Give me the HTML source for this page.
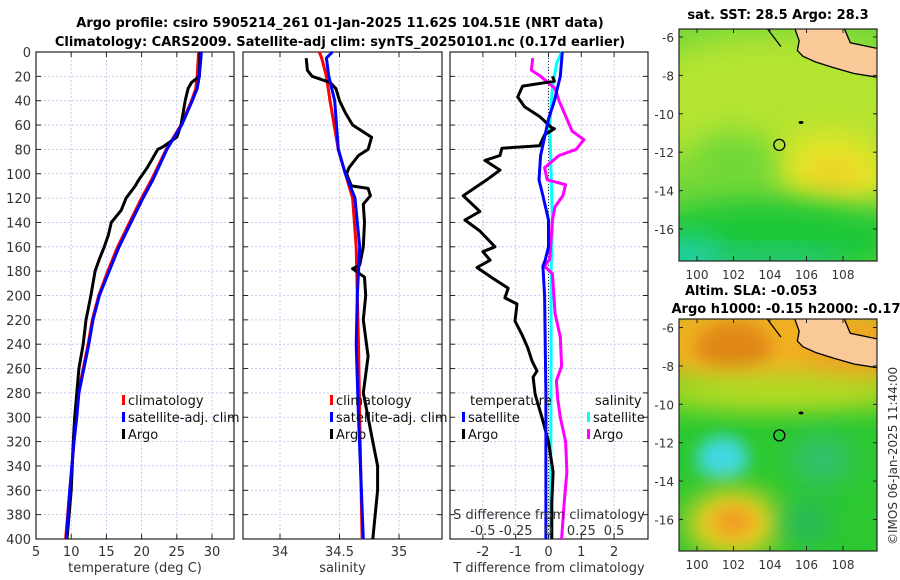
<!DOCTYPE html>
<html><head><meta charset="utf-8"><style>
body{margin:0;background:#fff;}
svg{display:block;font-family:"DejaVu Sans","Liberation Sans",sans-serif;}
</style></head><body>
<svg id="c" width="900" height="580" viewBox="0 0 900 580" xmlns="http://www.w3.org/2000/svg">
<defs>
<filter id="bl" x="-50%" y="-50%" width="200%" height="200%"><feGaussianBlur stdDeviation="14"/></filter>
<filter id="bl2" x="-50%" y="-50%" width="200%" height="200%"><feGaussianBlur stdDeviation="8"/></filter>
<clipPath id="m1"><rect x="679" y="29" width="198" height="232"/></clipPath>
<clipPath id="m2"><rect x="679" y="319" width="198" height="232"/></clipPath>
</defs>
<text x="340" y="27" text-anchor="middle" font-size="13" font-weight="bold">Argo profile: csiro 5905214_261 01-Jan-2025 11.62S 104.51E (NRT data)</text>
<text x="340" y="46" text-anchor="middle" font-size="13" font-weight="bold">Climatology: CARS2009. Satellite-adj clim: synTS_20250101.nc (0.17d earlier)</text>
<g id="maps"></g>
<g id="panels"></g>
</svg>
<script>
// ---- data ----
const depthTemp = [0,20,30,40,60,80,105,120,140,160,180,200,220,240,260,280,300,320,340,360,400];
const tempClim  = [28.1,27.9,27.7,27.1,25.6,23.5,21.4,20.0,18.3,16.6,15.2,13.9,13.0,12.4,11.7,11.0,10.7,10.4,10.1,9.8,9.2];
const tempSat   = [28.5,28.2,27.9,27.2,25.7,23.6,21.6,20.2,18.5,16.8,15.4,14.0,13.1,12.5,11.8,11.1,10.8,10.4,10.1,9.8,9.3];
const depthArgo = [0,20,25,30,40,60,70,78,80,88,95,100,105,110,120,130,140,150,160,170,180,190,200,220,240,260,280,300,320,360,400];
const tempArgo  = [28.3,28.2,27.1,26.6,26.2,25.6,25.0,23.0,22.3,21.5,20.8,20.2,19.6,19.1,17.8,17.1,15.7,15.3,14.7,14.0,13.4,13.1,12.8,12.1,11.7,11.1,10.8,10.5,10.3,10.0,9.4];

const depthSal = [0,5,20,40,80,100,120,160,200,240,300,400];
const salClim  = [34.33,34.35,34.39,34.42,34.49,34.55,34.61,34.64,34.65,34.66,34.67,34.69];
const salSat   = [34.44,34.39,34.41,34.46,34.49,34.55,34.63,34.67,34.65,34.64,34.66,34.70];
const depthSalArgo = [5,15,20,25,30,40,50,60,70,80,85,95,100,105,110,112,118,125,140,160,175,178,185,200,220,250,280,300,320,340,360,380,400];
const salArgo  = [34.22,34.23,34.27,34.42,34.47,34.5,34.55,34.61,34.77,34.74,34.66,34.58,34.56,34.58,34.6,34.74,34.76,34.7,34.71,34.7,34.67,34.61,34.71,34.72,34.7,34.74,34.7,34.74,34.78,34.82,34.82,34.8,34.78];

const depthDT = [20,24,28,37,45,53,62,63,68,77,79,85,89,97,105,118,131,138,147,160,164,171,177,186,194,202,207,221,232,243,254,262,267,281,300,320,345,370,400];
const dTArgo  = [0.12,0.18,-0.79,-0.94,-0.73,-0.27,0.09,0.18,-0.12,-0.27,-1.42,-1.48,-1.94,-1.48,-1.88,-2.6,-2.09,-2.55,-2.09,-1.63,-2.0,-1.78,-2.18,-1.69,-1.23,-1.33,-0.96,-1.02,-0.81,-0.63,-0.5,-0.35,-0.47,-0.41,-0.2,0.0,0.14,0.1,0.1];
const depthDTs = [0,20,40,55,70,85,105,118,138,160,171,176,200,280,400];
const dTSat   = [0.42,0.36,0.18,0.0,-0.12,-0.24,-0.29,-0.17,0.0,0.0,-0.1,-0.17,-0.12,-0.08,-0.08];
const depthDS = [0,10,30,60,100,140,180,250,400];
const dSSat   = [0.1,0.06,0.03,0.01,0.02,0.03,0.02,0.02,0.015];
const depthDSa = [5,15,20,30,40,55,65,72,80,85,95,100,105,109,118,127,138,170,176,182,215,234,258,270,285,300,320,345,370,400];
const dSArgo  = [-0.12,-0.13,-0.06,0.05,0.08,0.14,0.18,0.27,0.21,0.08,-0.03,-0.02,-0.01,0.13,0.11,0.05,0.03,0.01,-0.03,0.03,0.05,0.09,0.1,0.06,0.07,0.09,0.13,0.14,0.12,0.1];

const depthTicks = [0,20,40,60,80,100,120,140,160,180,200,220,240,260,280,300,320,340,360,380,400];
const tempTicks = [5,10,15,20,25,30];
const salTicks = [34,34.5,35];
const dTTicks = [-2,-1,0,1,2];
const dSTicks = [-0.5,-0.25,0,0.25,0.5];
const lonTicks = [100,102,104,106,108];
const latTicks = [-6,-8,-10,-12,-14,-16];

const NS='http://www.w3.org/2000/svg';
const svg=document.getElementById('c');
const P=document.getElementById('panels');
function mk(tag,attrs,parent){const e=document.createElementNS(NS,tag);for(const k in attrs)e.setAttribute(k,attrs[k]);(parent||P).appendChild(e);return e;}
const yTop=52,yBot=539;
const yD=d=>yTop+(d/400)*(yBot-yTop);
function lin(d0,d1,r0,r1){return v=>r0+(v-d0)/(d1-d0)*(r1-r0);}

const panels=[
 {x0:36,x1:234,sx:lin(5,30,36,212),ticks:tempTicks,label:'temperature (deg C)',name:'temperature-panel'},
 {x0:243,x1:442,sx:lin(34,35,280,399),ticks:salTicks,label:'salinity',name:'salinity-panel'},
 {x0:450,x1:648,sx:lin(0,1,548.5,581.3),ticks:dTTicks,label:'T difference from climatology',name:'difference-panel'}
];
panels.forEach((p,i)=>{
  const g=mk('g',{});
  
  
  depthTicks.forEach(d=>{
    const l=mk('line',{x1:p.x0,x2:p.x1,y1:yD(d),y2:yD(d),stroke:'#b8c4ec','stroke-width':0.8,'stroke-dasharray':'2,2'},g);
    
    
    mk('line',{x1:p.x0,x2:p.x0+5,y1:yD(d),y2:yD(d),stroke:'#222'},g);
    mk('line',{x1:p.x1-5,x2:p.x1,y1:yD(d),y2:yD(d),stroke:'#222'},g);
    if(i===0){const t=mk('text',{x:p.x0-5,y:yD(d)+5,'text-anchor':'end','font-size':13,fill:'#333'},g);t.textContent=d;
      
      }
  });
  p.ticks.forEach(v=>{
    const x=p.sx(v);
    mk('line',{x1:x,x2:x,y1:yTop,y2:yBot,stroke:'#b8c4ec','stroke-width':0.8,'stroke-dasharray':'2,2'},g);
    mk('line',{x1:x,x2:x,y1:yBot-5,y2:yBot,stroke:'#222'},g);
    mk('line',{x1:x,x2:x,y1:yTop,y2:yTop+5,stroke:'#222'},g);
    const t=mk('text',{x:x,y:556,'text-anchor':'middle','font-size':13,fill:'#333'},g);t.textContent=v;
    
    
  });
  const r=mk('rect',{x:p.x0,y:yTop,width:p.x1-p.x0,height:yBot-yTop,fill:'none',stroke:'#222','stroke-width':1.2},g);
  
  
  const xl=mk('text',{x:(p.x0+p.x1)/2,y:572,'text-anchor':'middle','font-size':13,fill:'#333'},g);xl.textContent=p.label;
  
  
});
mk('line',{x1:548.5,x2:548.5,y1:yTop,y2:yBot,stroke:'#333','stroke-dasharray':'1,2'});

function line(depths,vals,sx,color,name){
  const pts=depths.map((d,k)=>sx(vals[k]).toFixed(1)+','+yD(d).toFixed(1)).join(' ');
  const e=mk('polyline',{points:pts,fill:'none',stroke:color,'stroke-width':3,'stroke-linejoin':'round'});
  
  
}
const sT=panels[0].sx,sS=panels[1].sx,sDT=panels[2].sx,sDS=lin(0,0.25,548.5,581.3);
line(depthTemp,tempClim,sT,'#f00','temp-climatology-line');
line(depthArgo,tempArgo,sT,'#000','temp-argo-line');
line(depthTemp,tempSat,sT,'#00f','temp-satellite-line');
line(depthSal,salClim,sS,'#f00','sal-climatology-line');
line(depthSalArgo,salArgo,sS,'#000','sal-argo-line');
line(depthSal,salSat,sS,'#00f','sal-satellite-line');
line(depthDS,dSSat,sDS,'#0ff','dS-satellite-line');
line(depthDSa,dSArgo,sDS,'#f0f','dS-argo-line');
line(depthDT,dTArgo,sDT,'#000','dT-argo-line');
line(depthDTs,dTSat,sDT,'#00f','dT-satellite-line');

let st=mk('text',{x:549,y:519,'text-anchor':'middle','font-size':13,fill:'#333'});st.textContent='S difference from climatology';


dSTicks.forEach(v=>{const t=mk('text',{x:sDS(v),y:535,'text-anchor':'middle','font-size':13,fill:'#333'});t.textContent=v;
 
 });

function leg(x,y,color,label,name){
  const g=mk('g',{});
  
  
  mk('rect',{x:x,y:y-10,width:3,height:10,fill:color},g);
  const t=mk('text',{x:x+6,y:y,'font-size':13,fill:'#111'},g);t.textContent=label;
}
[[122,'#f00','climatology'],[122,'#00f','satellite-adj. clim'],[122,'#000','Argo']].forEach((a,k)=>leg(a[0],405+k*17,a[1],a[2],'legend-temp-'+k));
[[330,'#f00','climatology'],[330,'#00f','satellite-adj. clim'],[330,'#000','Argo']].forEach((a,k)=>leg(a[0],405+k*17,a[1],a[2],'legend-sal-'+k));
let h=mk('text',{x:470,y:405,'font-size':13,fill:'#111'});h.textContent='temperature';


h=mk('text',{x:595,y:405,'font-size':13,fill:'#111'});h.textContent='salinity';


leg(462,422,'#00f','satellite','legend-dT-satellite');
leg(462,439,'#000','Argo','legend-dT-argo');
leg(587,422,'#0ff','satellite','legend-dS-satellite');
leg(587,439,'#f0f','Argo','legend-dS-argo');

// ---- maps ----
const M=document.getElementById('maps');
const mx=lin(100,108,697,843);
function mapFrame(y0,lat0y,name,blobs,base){
  const g=mk('g',{},M);
  
  
  const my=v=>lat0y+(-6-v)*19.2;
  const cg=mk('g',{'clip-path':'url(#'+(y0<100?'m1':'m2')+')'},g);
  mk('rect',{x:679,y:y0,width:198,height:232,fill:base},cg);
  blobs.forEach(b=>mk('ellipse',{cx:mx(b[0]),cy:my(b[1]),rx:b[2],ry:b[3],fill:b[4],filter:'url(#'+(b[5]||'bl')+')'},cg));
  const land=[[105.3,-5.4],[108.0,-5.4],[108.4,-6.3],[109.9,-6.6],[109.9,-8.1],[108.6,-7.9],[107.5,-7.6],[106.5,-7.3],[105.8,-7.0],[105.5,-6.7],[105.6,-6.2],[105.3,-5.4]];
  const lp=mk('polygon',{points:land.map(p=>mx(p[0])+','+my(p[1])).join(' '),fill:'#f9c998',stroke:'#000','stroke-width':1.3},cg);
  
  
  mk('polyline',{points:[[103.8,-5.5],[104.2,-6.0],[104.6,-6.5]].map(p=>mx(p[0])+','+my(p[1])).join(' '),fill:'none',stroke:'#000','stroke-width':1.3},cg);
  mk('ellipse',{cx:mx(105.7),cy:my(-10.45),rx:2.5,ry:1.5,fill:'#000'},cg);
  const c=mk('circle',{cx:mx(104.51),cy:my(-11.62),r:5.5,fill:'none',stroke:'#000','stroke-width':1.3},g);
  
  
  mk('rect',{x:679,y:y0,width:198,height:232,fill:'none',stroke:'#222','stroke-width':1.2},g);
  lonTicks.forEach(v=>{mk('line',{x1:mx(v),x2:mx(v),y1:y0+232,y2:y0+227,stroke:'#222'},g);mk('line',{x1:mx(v),x2:mx(v),y1:y0,y2:y0+4,stroke:'#222'},g);
    const t=mk('text',{x:mx(v),y:y0+250,'text-anchor':'middle','font-size':12,fill:'#333'},g);t.textContent=v;
    
    });
  latTicks.forEach(v=>{mk('line',{x1:679,x2:683,y1:my(v),y2:my(v),stroke:'#222'},g);mk('line',{x1:873,x2:877,y1:my(v),y2:my(v),stroke:'#222'},g);
    const t=mk('text',{x:674,y:my(v)+5,'text-anchor':'end','font-size':12,fill:'#333'},g);t.textContent=v;
    
    });
}
mapFrame(29,37,'sst-map',[
 [104,-9.5,140,70,'#b4e430'],
 [107.5,-13,60,40,'#e4e428'],
 [107.5,-13.3,30,20,'#ecd828','bl2'],
 [102,-12.5,45,30,'#70d838'],
 [104,-16.5,140,40,'#1ec838'],
 [99.5,-17.5,35,20,'#20d0b0'],
 [104,-17.6,80,10,'#20c890'],
],'#78d838');
mapFrame(319,327.5,'sla-map',[
 [104,-6.8,150,50,'#f0b020'],
 [102,-7.0,38,25,'#e08818','bl2'],
 [108.5,-7.6,45,30,'#f0a020'],
 [104.5,-9.4,140,18,'#b8e020'],
 [101.4,-12.8,26,22,'#40d8e0','bl2'],
 [106.8,-12.9,30,25,'#30c070'],
 [102,-16.2,48,34,'#f0d020'],
 [102,-16.1,22,16,'#f0a020','bl2'],
 [106,-16.2,25,20,'#28b860'],
],'#2cc830');
[['sat. SST: 28.5 Argo: 28.3',778,19,'middle','sst-map-title'],['Altim. SLA: -0.053',685,295,'start','sla-map-title'],['Argo h1000: -0.15 h2000: -0.17',786,313,'middle','argo-height-title']].forEach(a=>{
 const t=mk('text',{x:a[1],y:a[2],'text-anchor':a[3],'font-size':13,'font-weight':'bold'},M);t.textContent=a[0];
 
 
});
const cr=mk('text',{x:0,y:0,transform:'translate(897,545) rotate(-90)','font-size':12,fill:'#333'},M);cr.textContent='©IMOS 06-Jan-2025 11:44:00';


</script>
</body></html>
